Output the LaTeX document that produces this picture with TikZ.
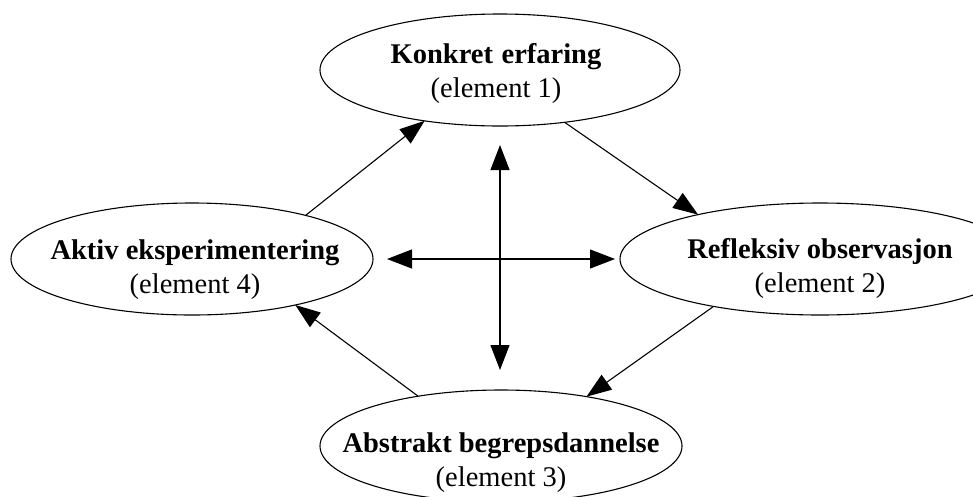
\documentclass[tikz,border=0pt]{standalone}
\usepackage{fontspec}
\setmainfont{Liberation Serif}
\usetikzlibrary{shapes.geometric,arrows.meta}
\begin{document}
\begin{tikzpicture}[x=1pt,y=-1pt,
  elli/.style={draw, ellipse, line width=1.1pt, inner sep=0pt, outer sep=0pt,
    minimum width=360pt, minimum height=112pt},
  lbl/.style={align=center, inner sep=0pt, font=\fontsize{28.5}{34}\selectfont},
  conn/.style={line width=1.1pt, -{Triangle[length=25pt,width=18pt]}},
  cross/.style={line width=1.1pt,
    {Triangle[length=25pt,width=19pt]}-{Triangle[length=25pt,width=19pt]}}]
\useasboundingbox (0,0) rectangle (973,496);
\clip (0,0) rectangle (973,496);
\node[elli] (e1) at (500,70) {};
\node[elli, minimum width=400pt] (e2) at (820,259) {};
\node[elli, minimum width=362pt] (e3) at (501,446) {};
\node[elli, minimum width=362pt] (e4) at (192,259) {};
\node[lbl] (t1) at (496,73.5) {\textbf{Konkret\hspace{0.3em}erfaring}\\(element 1)};
\node[lbl] (t2) at (820,268) {\textbf{Refleksiv observasjon}\\(element 2)};
\node[lbl] (t3) at (501,462.5) {\textbf{Abstrakt begrepsdannelse}\\(element 3)};
\node[lbl] (t4) at (195,269.5) {\textbf{Aktiv eksperimentering}\\(element 4)};
\coordinate (ctop) at (500,145);
\coordinate (cbot) at (500,370);
\coordinate (cl) at (387,259);
\coordinate (cr) at (615,259);
\draw[cross] (ctop) -- (cbot);
\draw[cross] (cl) -- (cr);
\draw[conn] (e4.21) -- (e1.214);
\draw[conn] (e1.-39) -- (e2.160);
\draw[conn] (e2.204) -- (e3.30);
\draw[conn] (e3.149) -- (e4.-24);
\end{tikzpicture}
\end{document}
